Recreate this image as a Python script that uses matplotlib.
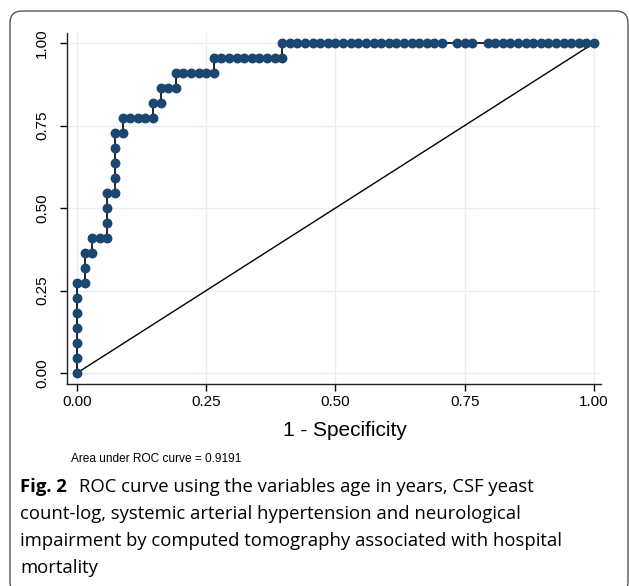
import matplotlib
matplotlib.use("Agg")
import matplotlib.pyplot as plt
from matplotlib.patches import FancyBboxPatch

# ROC points, as counts (68 negatives, 22 positives)
n_neg = 68
n_pos = 22
fp = [0, 0, 0, 0, 0, 0, 0, 1, 1, 1, 2, 2, 3, 4, 4, 4, 4, 5, 5, 5, 5, 5, 6, 6,
      7, 8, 9, 10, 10, 11, 11, 12, 13, 13, 14, 15, 16, 17, 18, 18,
      19, 20, 21, 22, 23, 24, 25, 26, 27, 27,
      28, 29, 30, 31, 32, 33, 34, 35, 36, 37, 38, 39, 40, 41, 42, 43, 44, 45, 46, 47, 48,
      50, 51, 52,
      54, 55, 56, 57, 58, 59, 60, 61, 62, 63, 64, 65, 66, 67, 68]
tp = [0, 1, 2, 3, 4, 5, 6, 6, 7, 8, 8, 9, 9, 9, 10, 11, 12, 12, 13, 14, 15, 16, 16, 17,
      17, 17, 17, 17, 18, 18, 19, 19, 19, 20, 20, 20, 20, 20, 20, 21,
      21, 21, 21, 21, 21, 21, 21, 21, 21, 22,
      22, 22, 22, 22, 22, 22, 22, 22, 22, 22, 22, 22, 22, 22, 22, 22, 22, 22, 22, 22, 22,
      22, 22, 22,
      22, 22, 22, 22, 22, 22, 22, 22, 22, 22, 22, 22, 22, 22, 22]
ticks = [0, 0.25, 0.5, 0.75, 1.0]
tick_labels = ["0.00", "0.25", "0.50", "0.75", "1.00"]
auc_text = "Area under ROC curve = 0.9191"
caption_bold = "Fig. 2"
caption_lines = ["ROC curve using the variables age in years, CSF yeast",
                 "count-log, systemic arterial hypertension and neurological",
                 "impairment by computed tomography associated with hospital",
                 "mortality"]

x = [v / n_neg for v in fp]
y = [v / n_pos for v in tp]

W, H = 629, 586
fig = plt.figure(figsize=(W / 100, H / 100), dpi=100)
fig.patch.set_facecolor("white")

# rounded frame around the figure (pixel coords)
frame = FancyBboxPatch((10, -8), 618, 583, boxstyle="round,pad=0,rounding_size=12",
                       transform=None, fill=False, edgecolor="#555555", linewidth=1.0)
fig.patches.append(frame)

ax = fig.add_axes([67 / W, 1 - 384 / H, 534 / W, 351 / H])
ax.set_xlim(-0.0193, 1.0135)
ax.set_ylim(-0.0333, 1.0303)
for s in ["top", "right"]:
    ax.spines[s].set_visible(False)
for s in ["left", "bottom"]:
    ax.spines[s].set_linewidth(1.0)
    ax.spines[s].set_color("#222222")

ax.grid(True, color="#e6eff1", linewidth=1.0)
ax.set_axisbelow(True)

ax.plot([0, 1], [0, 1], color="black", linewidth=1.0, zorder=2)
ax.plot(x, y, color="black", linewidth=1.2, marker="o", markersize=6.1,
        markerfacecolor="#1a4670", markeredgecolor="#1a4670", zorder=3)

ax.set_xticks(ticks)
ax.set_xticklabels(tick_labels, fontsize=11, family="Liberation Sans")
ax.set_yticks(ticks)
ax.set_yticklabels(tick_labels, fontsize=11, family="Liberation Sans",
                   rotation=90, va="center")
ax.tick_params(axis="x", length=5, width=1, pad=3)
ax.tick_params(axis="y", length=5, width=1, pad=8)

fig.text(345 / W, 1 - 430 / H, "1 - Specificity", fontsize=15,
         family="Liberation Sans", ha="center", va="center")
fig.text(71 / W, 1 - 459 / H, auc_text, fontsize=8.6,
         family="Liberation Sans", ha="left", va="center")

cap_size = 13.3
cap_y = [487, 514, 541, 568]
bold = fig.text(20 / W, 1 - cap_y[0] / H, caption_bold, fontsize=cap_size, weight="bold",
                family="Open Sans", ha="left", va="center")
fig.canvas.draw()
bx = bold.get_window_extent().x1 + 12
fig.text(bx / W, 1 - cap_y[0] / H, caption_lines[0], fontsize=cap_size,
         family="Open Sans", ha="left", va="center")
for yy, line in zip(cap_y[1:], caption_lines[1:]):
    fig.text(20 / W, 1 - yy / H, line, fontsize=cap_size,
             family="Open Sans", ha="left", va="center")

fig.savefig("out.png", dpi=100)
